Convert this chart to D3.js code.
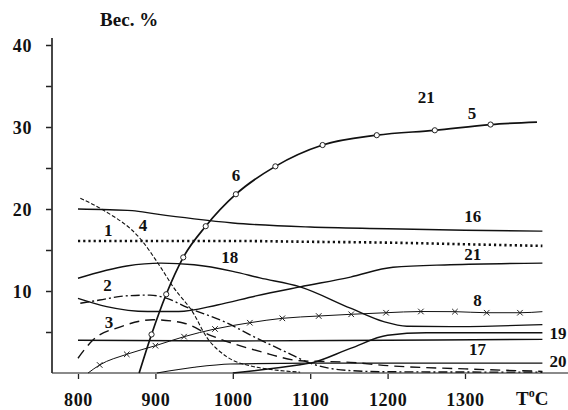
<!DOCTYPE html>
<html>
<head>
<meta charset="utf-8">
<script src="https://cdn.jsdelivr.net/npm/d3@7"></script>
<style>
  html, body { margin: 0; padding: 0; background: #fff; }
  svg { display: block; }
  text { font-family: "Liberation Serif", "Times New Roman", serif; font-weight: bold; fill: #111; }
</style>
</head>
<body>
<svg id="chart" width="568" height="410"></svg>
<script>
// Temperature (°C) and composition (вес. %) for each numbered curve
const t1  = [800, 900, 1000, 1100, 1200, 1300, 1400];
const v1  = [16.1, 16.1, 16.1, 16.0, 15.9, 15.7, 15.5];

const t16 = [800, 870, 900, 950, 1000, 1100, 1200, 1300, 1400];
const v16 = [20.0, 19.8, 19.4, 18.8, 18.3, 17.8, 17.6, 17.4, 17.3];

const t18 = [800, 863, 907, 950, 1000, 1035, 1087, 1152, 1195, 1225, 1281, 1400];
const v18 = [11.55, 13.05, 13.4, 13.2, 12.4, 11.6, 10.5, 7.9, 6.26, 5.7, 5.65, 5.9];

const t21 = [800, 837, 890, 930, 980, 1030, 1087, 1152, 1207, 1281, 1400];
const v21 = [9.1, 8.1, 7.5, 7.5, 8.3, 9.4, 10.5, 11.7, 12.9, 13.2, 13.4];

const t5  = [879, 895, 914, 936, 965, 1004, 1055, 1116, 1186, 1261, 1333, 1393];
const v5  = [0, 4.7, 9.6, 14.1, 17.9, 21.8, 25.2, 27.8, 29.0, 29.6, 30.3, 30.6];

const t8  = [813, 828, 863, 900, 937, 977, 1022, 1064, 1111, 1153, 1198, 1243, 1287, 1328, 1371, 1400];
const v8  = [0, 0.98, 2.28, 3.33, 4.43, 5.37, 6.13, 6.67, 6.95, 7.16, 7.35, 7.5, 7.48, 7.35, 7.35, 7.48];

const t2  = [803, 828, 861, 893, 915, 941, 988, 1030, 1070, 1100, 1150, 1200, 1400];
const v2  = [8.5, 8.9, 9.4, 9.5, 9.1, 8.0, 6.3, 4.3, 2.5, 1.2, 0.3, 0.15, 0.1];

const t3  = [800, 819, 854, 897, 936, 971, 1036, 1087, 1152, 1200, 1300, 1400];
const v3  = [1.8, 4.0, 5.6, 6.5, 6.1, 4.6, 2.6, 1.5, 1.3, 0.9, 0.5, 0.2];

const t4  = [803, 832, 882, 906, 923, 949, 966, 992, 1026, 1044, 1087];
const v4  = [21.3, 19.9, 16.2, 13.0, 10.5, 7.3, 4.4, 2.0, 0.8, 0.5, 0.1];

const t17 = [800, 1000, 1200, 1400];
const v17 = [4.0, 3.9, 4.0, 4.1];

const t19 = [1000, 1087, 1100, 1152, 1200, 1250, 1400];
const v19 = [0, 1.0, 1.2, 3.0, 4.6, 4.9, 4.9];

const t20 = [902, 950, 997, 1100, 1400];
const v20 = [0, 0.7, 1.1, 1.2, 1.2];

// Circle and cross markers sit on the interior points of curves 5 and 8
const markers5 = [1, 2, 3, 4, 5, 6, 7, 8, 9, 10];
const markers8 = [1, 2, 3, 4, 5, 6, 7, 8, 9, 10, 11, 12, 13, 14];

const xTicks = [800, 900, 1000, 1100, 1200, 1300];
const yTicks = [5, 10, 15, 20, 25, 30, 35, 40];

// Curve numbers and where they are written
const labelText = ["21", "5", "6", "16", "1", "4", "18", "21", "2", "3", "8", "19", "17", "20"];
const labelT    = [1250, 1309, 1004, 1310, 839, 884, 996, 1310, 838, 840, 1316, 1420, 1316, 1420];
const labelV    = [33.7, 31.7, 24.1, 19.1, 17.4, 18.0, 14.1, 14.5, 10.7, 6.2, 8.9, 4.9, 2.9, 1.5];

const svg = d3.select("#chart");
const x = d3.scaleLinear().domain([800, 1300]).range([78, 465]);
const y = d3.scaleLinear().domain([0, 40]).range([373, 45]);

// Axes
const xAxis = svg.append("g").attr("transform", `translate(0,${y(0)})`)
  .call(d3.axisBottom(x).tickValues(xTicks).tickSize(6).tickPadding(14).tickFormat(d3.format("d")));
xAxis.select(".domain").remove();
xAxis.selectAll(".tick line").attr("stroke", "#222").attr("stroke-width", 1.3);
xAxis.selectAll(".tick text").style("font-size", "18px").style("letter-spacing", "0.6px").attr("fill", "#111");

const yAxis = svg.append("g").attr("transform", `translate(52,0)`)
  .call(d3.axisLeft(y).tickValues(yTicks).tickSize(6).tickPadding(14)
    .tickFormat(d => d % 10 === 0 ? d : ""));
yAxis.select(".domain").remove();
yAxis.selectAll(".tick line").attr("stroke", "#222").attr("stroke-width", 1.5);
yAxis.selectAll(".tick text").style("font-size", "18px").style("letter-spacing", "0.6px")
  .attr("fill", "#111").attr("dy", "0.35em");

svg.append("line").attr("x1", 52).attr("x2", 568).attr("y1", y(0)).attr("y2", y(0))
  .attr("stroke", "#8a8a8a").attr("stroke-width", 2.2);
svg.append("line").attr("x1", 52).attr("x2", 52).attr("y1", 38).attr("y2", y(0))
  .attr("stroke", "#333").attr("stroke-width", 1.8);

svg.append("text").attr("x", 100).attr("y", 26).style("font-size", "19px").text("Вес. %");
const tc = svg.append("text").attr("x", 516).attr("y", 405).style("font-size", "19px");
tc.append("tspan").text("T");
tc.append("tspan").attr("dy", -8).style("font-size", "12px").text("o");
tc.append("tspan").attr("dy", 8).text("C");

// Curves
const line = d3.line().x(d => x(d[0])).y(d => y(d[1])).curve(d3.curveMonotoneX);
const zip = (t, v) => t.map((d, i) => [d, v[i]]);

const curves = [
  { t: t16, v: v16, dash: null, w: 1.4 },
  { t: t1,  v: v1,  dash: "2.2,3", w: 2.6 },
  { t: t18, v: v18, dash: null, w: 1.4 },
  { t: t21, v: v21, dash: null, w: 1.4 },
  { t: t17, v: v17, dash: null, w: 1.4 },
  { t: t19, v: v19, dash: null, w: 1.4 },
  { t: t20, v: v20, dash: null, w: 1.2 },
  { t: t2,  v: v2,  dash: "9,3,2,3", w: 1.4 },
  { t: t3,  v: v3,  dash: "10,6", w: 1.4 },
  { t: t4,  v: v4,  dash: "4,2", w: 1.1 },
  { t: t8,  v: v8,  dash: null, w: 1.0 },
  { t: t5,  v: v5,  dash: null, w: 1.7 }
];

svg.append("g").selectAll("path").data(curves).join("path")
  .attr("d", c => line(zip(c.t, c.v)))
  .attr("fill", "none").attr("stroke", "#111")
  .attr("stroke-width", c => c.w)
  .attr("stroke-dasharray", c => c.dash);

// Circles on curve 5
svg.append("g").selectAll("circle").data(markers5.map(i => [t5[i], v5[i]])).join("circle")
  .attr("cx", d => x(d[0])).attr("cy", d => y(d[1])).attr("r", 2.6)
  .attr("fill", "#fff").attr("stroke", "#222").attr("stroke-width", 1);

// Crosses on curve 8
const cross = d3.symbol().type(d3.symbolX).size(22);
svg.append("g").selectAll("path").data(markers8.map(i => [t8[i], v8[i]])).join("path")
  .attr("transform", d => `translate(${x(d[0])},${y(d[1])})`)
  .attr("d", cross).attr("fill", "none").attr("stroke", "#222").attr("stroke-width", 1);

// Curve numbers
svg.append("g").selectAll("text").data(labelText).join("text")
  .attr("x", (d, i) => x(labelT[i])).attr("y", (d, i) => y(labelV[i]))
  .attr("text-anchor", "middle").attr("dy", "0.35em")
  .style("font-size", "17px").text(d => d);
</script>
</body>
</html>
